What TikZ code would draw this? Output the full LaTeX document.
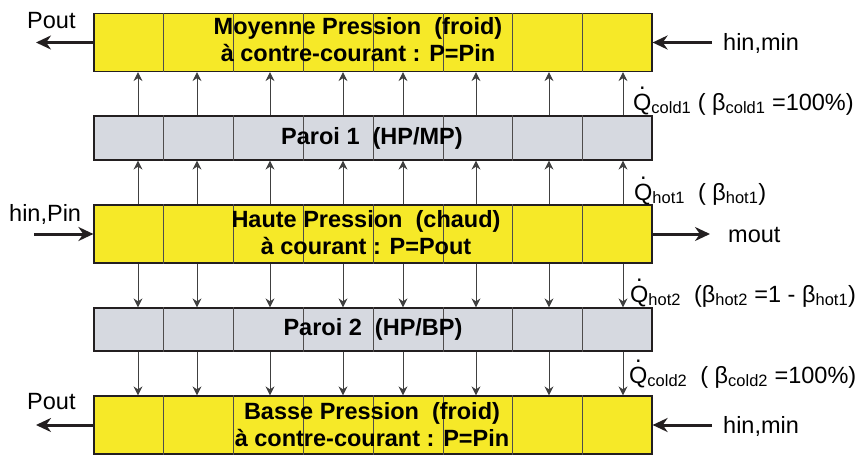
\documentclass[tikz,border=0pt]{standalone}
\usepackage{amsmath}
\usepackage{fontspec}
\setmainfont{Liberation Sans}
\usetikzlibrary{arrows.meta,calc}
\definecolor{fluid}{RGB}{246,233,40}
\definecolor{wallc}{RGB}{214,217,224}
\definecolor{edge}{RGB}{35,31,32}
\newcommand{\Qdot}{\makebox[0pt][l]{\makebox[0.778em]{\raisebox{0.88em}{.}}}Q}

\begin{document}
\begin{tikzpicture}[x=1pt,y=-1pt,
  every node/.style={font=\fontsize{23.5}{27}\selectfont},
  row/.style={draw=edge,line width=1.2pt,minimum width=558pt,inner sep=0pt},
  fluidrow/.style={row,fill=fluid,minimum height=58pt},
  wallrow/.style={row,fill=wallc,minimum height=44pt},
  title/.style={align=center,inner sep=0pt,font=\fontsize{23.5}{27}\selectfont\bfseries},
  flow/.style={-{Stealth[length=15pt,width=14pt]},line width=3pt,edge},
  flux/.style={-{Stealth[length=9pt,width=9pt]},line width=0.9pt,black!75},
  lab/.style={anchor=base west,inner sep=0pt}]
  \useasboundingbox (0,0) rectangle (855,455);

  % les cinq rangees
  \node[fluidrow] (mp) at (373,42.5) {};
  \node[wallrow] (p1) at (373,138) {};
  \node[fluidrow] (hp) at (373,234) {};
  \node[wallrow,minimum height=43pt] (p2) at (373,329.5) {};
  \node[fluidrow] (bp) at (373,425) {};
  \foreach \r in {mp,p1,hp,p2,bp}
    \foreach \i in {1,...,7}
      \draw[edge!80,line width=0.8pt] ($(\r.north west)!\i/8!(\r.north east)$) -- ($(\r.south west)!\i/8!(\r.south east)$);

  \node[title] (mptxt) at (358,40) {Moyenne Pression \ (froid)\\ à contre-courant : P=Pin};
  \node[title] (p1txt) at (372,138) {Paroi 1 \ (HP/MP)};
  \node[title] (hptxt) at (366,233) {Haute Pression \ (chaud)\\ à courant : P=Pout};
  \node[title] (p2txt) at (373,329) {Paroi 2 \ (HP/BP)};
  \node[title] (bptxt) at (372,425) {Basse Pression \ (froid)\\ à contre-courant : P=Pin};

  % flux de chaleur
  \foreach \x in {138,197,270,343,403,476,549,623} {
    \draw[flux] (\x,0 |- p1.north) -- (\x,0 |- mp.south);
    \draw[flux] (\x,0 |- hp.north) -- (\x,0 |- p1.south);
    \draw[flux] (\x,0 |- hp.south) -- (\x,0 |- p2.north);
    \draw[flux] (\x,0 |- p2.south) -- (\x,0 |- bp.north);
  }
  \node[lab] (qc1) at (633,110) {\Qdot\textsubscript{cold1} ( β\textsubscript{cold1} =100\%)};
  \node[lab] (qh1) at (634,200) {\Qdot\textsubscript{hot1} \ ( β\textsubscript{hot1})};
  \node[lab] (qh2) at (630,302) {\Qdot\textsubscript{hot2} \ (β\textsubscript{hot2} =1 - β\textsubscript{hot1})};
  \node[lab] (qc2) at (629,383) {\Qdot\textsubscript{cold2} \ ( β\textsubscript{cold2} =100\%)};

  % entrees / sorties
  \node[lab] (pout1) at (27,28) {Pout};
  \node[lab] (hin1) at (723,50) {hin,min};
  \node[lab] (hinp) at (9,221) {hin,Pin};
  \node[lab] (mout) at (728,242) {mout};
  \node[lab] (pout2) at (27,409) {Pout};
  \node[lab] (hin2) at (723,433) {hin,min};
  \coordinate (o1) at (36,42.5);
  \coordinate (i1) at (712,42.5);
  \coordinate (i2) at (34,234);
  \coordinate (o2) at (710,234);
  \coordinate (o3) at (36,425);
  \coordinate (i3) at (712,425);
  \draw[flow] (mp.west) -- (o1);
  \draw[flow] (i1) -- (mp.east);
  \draw[flow] (i2) -- (hp.west);
  \draw[flow] (hp.east) -- (o2);
  \draw[flow] (bp.west) -- (o3);
  \draw[flow] (i3) -- (bp.east);
\end{tikzpicture}
\end{document}
